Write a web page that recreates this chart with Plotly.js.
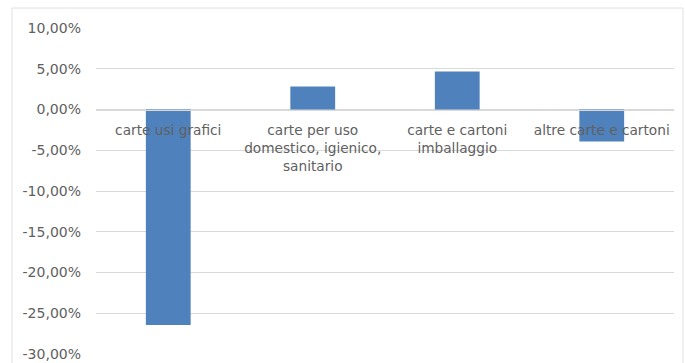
<!DOCTYPE html>
<html>
<head>
<meta charset="utf-8">
<script src="https://cdn.plot.ly/plotly-3.0.1.min.js"></script>
<style>html,body{margin:0;padding:0;background:#fff;}#chart{width:685px;height:363px;}</style>
</head>
<body>
<div id="chart"></div>
<script>
const categories = ["carte usi grafici", "carte per uso domestico, igienico, sanitario", "carte e cartoni imballaggio", "altre carte e cartoni"];
const tickLabels = ["carte usi grafici", "carte per uso<br>domestico, igienico,<br>sanitario", "carte e cartoni<br>imballaggio", "altre carte e cartoni"];
const values = [-0.2644, 0.0283, 0.0467, -0.0393];
const yTicks = [0.10, 0.05, 0, -0.05, -0.10, -0.15, -0.20, -0.25, -0.30];
const yTickLabels = ["10,00%", "5,00%", "0,00%", "-5,00%", "-10,00%", "-15,00%", "-20,00%", "-25,00%", "-30,00%"];

const trace = {
  type: 'bar',
  x: categories,
  y: values,
  marker: {color: '#4f81bd', line: {width: 0}},
  hoverinfo: 'none'
};

const layout = {
  width: 685, height: 363,
  margin: {l: 96, r: 11, t: 28, b: 9},
  paper_bgcolor: '#ffffff',
  plot_bgcolor: '#ffffff',
  separators: ',.',
  bargap: 0.69,
  showlegend: false,
  font: {family: '"DejaVu Sans", sans-serif', color: '#595959'},
  xaxis: {
    type: 'category',
    tickvals: categories,
    ticktext: tickLabels,
    anchor: 'free',
    position: 0.75,
    showline: true,
    linecolor: '#d9d9d9',
    linewidth: 1,
    ticks: '',
    showgrid: false,
    zeroline: false,
    tickfont: {size: 13.7, color: '#606060'},
    ticklabelstandoff: 8,
    layer: 'above traces'
  },
  yaxis: {
    range: [-0.30, 0.10],
    tickvals: yTicks,
    ticktext: yTickLabels,
    showgrid: true,
    gridcolor: '#d9d9d9',
    gridwidth: 1,
    zeroline: false,
    showline: false,
    ticks: '',
    ticklabelstandoff: 14,
    tickfont: {size: 14, color: '#606060'}
  },
  shapes: [{
    type: 'rect', xref: 'paper', yref: 'paper',
    x0: -0.1453, x1: 1.0156, y0: -0.2, y1: 1.0613,
    line: {color: '#e0e0e0', width: 1}, fillcolor: 'rgba(0,0,0,0)', layer: 'below'
  }]
};

Plotly.newPlot('chart', [trace], layout, {staticPlot: true, displayModeBar: false});
</script>
</body>
</html>
